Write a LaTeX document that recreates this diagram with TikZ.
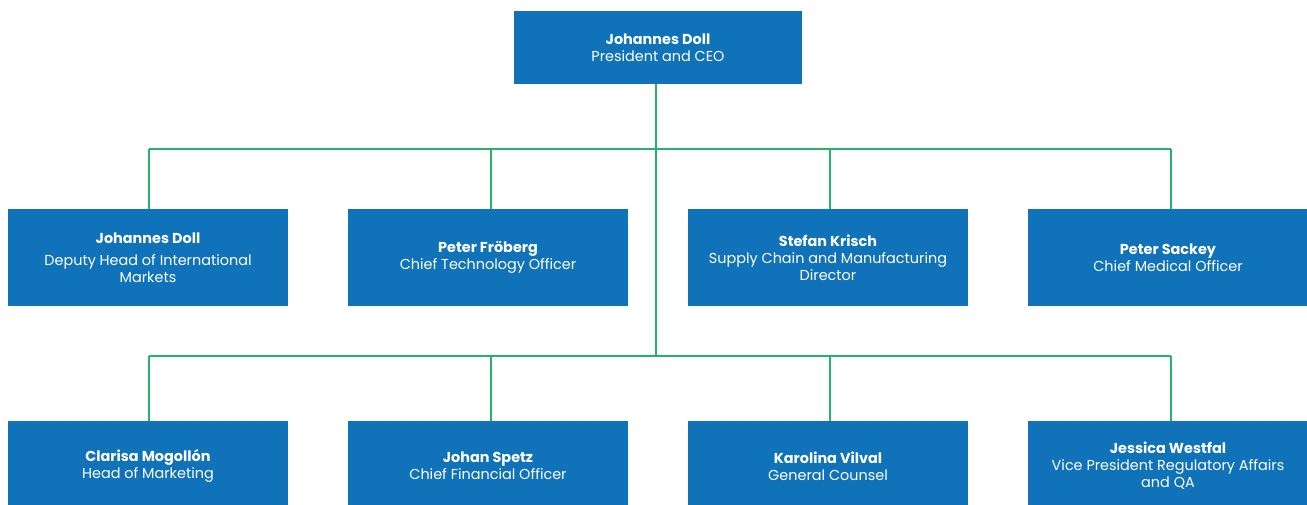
\documentclass[tikz,border=0pt]{standalone}
\usepackage{fontspec}
\setmainfont{Poppins}
\usepackage{tikz}
\usetikzlibrary{positioning,calc}
\usepackage{xcolor}
\definecolor{orgblue}{RGB}{16,114,185}
\definecolor{orggreen}{RGB}{36,178,108}

\begin{document}
\begin{tikzpicture}[x=0.02cm, y=-0.02cm,
    box/.style={rectangle, fill=orgblue, text=white, inner sep=0pt, outer sep=0pt,
        minimum width=5.6cm, minimum height=1.94cm, align=center,
        font=\fontsize{8.2}{9.7}\selectfont},
    topbox/.style={box, minimum width=5.76cm, minimum height=1.46cm},
    lowbox/.style={box, minimum height=1.8cm},
    link/.style={draw=orggreen, line width=1.15pt}
]
    \useasboundingbox (0,0) rectangle (1307,504);

    \node[topbox] (ceo) at (658,47.5) {\textbf{Johannes Doll}\\President and CEO};

    % First row
    \node[box] (intl) at (148,257.5) {\textbf{Johannes Doll}\\[3pt]Deputy Head of International\\Markets};
    \node[box] (cto) at (488,257.5) {\textbf{Peter Fröberg}\\Chief Technology Officer};
    \node[box] (supply) at (828,257.5) {\textbf{Stefan Krisch}\\Supply Chain and Manufacturing\\Director};
    \node[box] (cmo) at (1168,257.5) {\textbf{Peter Sackey}\\Chief Medical Officer};

    % Second row
    \node[lowbox] (mkt) at (148,466) {\textbf{Clarisa Mogollón}\\Head of Marketing};
    \node[lowbox] (cfo) at (488,466) {\textbf{Johan Spetz}\\Chief Financial Officer};
    \node[lowbox] (legal) at (828,466) {\textbf{Karolina Vilval}\\General Counsel};
    \node[lowbox] (reg) at (1168,466) {\textbf{Jessica Westfal}\\Vice President Regulatory Affairs\\and QA};

    % Connectors
    \coordinate (busA) at (656,149);
    \coordinate (busB) at (656,356);
    \draw[link] (ceo.south -| busA) -- (busB);
    \draw[link] ([shift={(1,0)}]intl.north |- busA) -- ([shift={(3,0)}]cmo.north |- busA);
    \draw[link] ([shift={(1,0)}]mkt.north |- busB) -- ([shift={(3,0)}]reg.north |- busB);
    \foreach \n/\dx in {intl/1,cto/3,supply/2,cmo/3}
        \draw[link] ([shift={(\dx,0)}]\n.north) -- ([shift={(\dx,0)}]\n.north |- busA);
    \foreach \n/\dx in {mkt/1,cfo/3,legal/2,reg/3}
        \draw[link] ([shift={(\dx,0)}]\n.north) -- ([shift={(\dx,0)}]\n.north |- busB);
\end{tikzpicture}
\end{document}
